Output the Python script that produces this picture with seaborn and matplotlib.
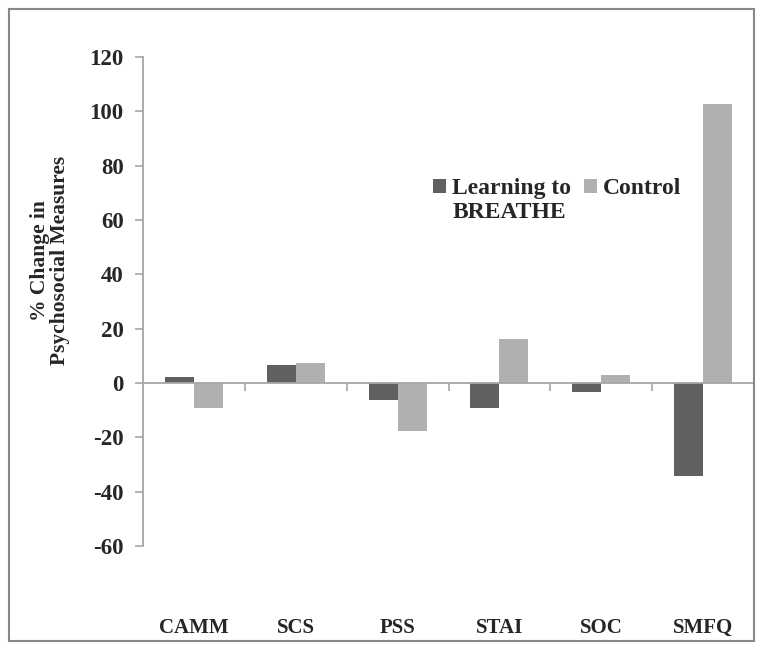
import matplotlib
matplotlib.use('Agg')
import matplotlib.pyplot as plt
import pandas as pd
import seaborn as sns
from matplotlib.patches import Rectangle

# values
measures = ["CAMM", "SCS", "PSS", "STAI", "SOC", "SMFQ"]
breathe = [2.2, 6.7, -6.4, -9.1, -3.2, -34.1]
control = [-9.3, 7.2, -17.7, 16.1, 2.8, 102.7]
groups = ["Learning to BREATHE", "Control"]
colors = ["#606060", "#b0b0b0"]
yticks = [-60, -40, -20, 0, 20, 40, 60, 80, 100, 120]

df = pd.DataFrame({
    "measure": measures * 2,
    "group": [groups[0]] * len(measures) + [groups[1]] * len(measures),
    "change": breathe + control,
})

sns.set_style("white")
plt.rcParams['font.family'] = ['Liberation Serif', 'DejaVu Serif']
plt.rcParams['font.weight'] = 'bold'
axis_gray = "#a6a6a6"

fig = plt.figure(figsize=(7.64, 6.51), dpi=100)
ax = fig.add_axes([143 / 764, 1 - 546 / 651, (754 - 143) / 764, (546 - 57) / 651])

sns.barplot(data=df, x="measure", y="change", hue="group", order=measures,
            hue_order=groups, palette=colors, width=0.57, saturation=1,
            linewidth=0, ax=ax)

ax.set_xlim(-0.5, len(measures) - 0.5)
ax.set_ylim(-60, 120)
ax.set_yticks(yticks)
ax.set_yticklabels([str(t) for t in yticks], fontsize=16.5, fontweight='bold')
ax.tick_params(axis='y', direction='out', length=6, width=1.2, color=axis_gray, pad=8, left=True)

# category axis crosses at zero, boundary ticks on it
for side in ["top", "right"]:
    ax.spines[side].set_visible(False)
ax.spines["left"].set_color(axis_gray)
ax.spines["left"].set_linewidth(1.3)
ax.spines["bottom"].set_position(("data", 0))
ax.spines["bottom"].set_color(axis_gray)
ax.spines["bottom"].set_linewidth(1.3)
ax.set_xticks([i + 0.5 for i in range(len(measures))])
ax.set_xticklabels([])
ax.tick_params(axis='x', direction='out', length=6, width=1.2, color=axis_gray, bottom=True)
for i, m in enumerate(measures):
    ax.text(i, -0.168, m, transform=ax.get_xaxis_transform(), ha='center', va='center',
            fontsize=15, fontweight='bold')

ax.set_xlabel("")
ax.set_ylabel("")
fig.text(0.065, 0.60, "% Change in\nPsychosocial Measures", rotation=90, ha='center',
         va='center', fontsize=15.5, fontweight='bold', linespacing=1.0)

# legend: first label wraps onto a second line under its text
handles, labels = ax.get_legend_handles_labels()
ax.legend(handles, ["Learning to", "Control"], ncol=2, frameon=False, loc='upper left',
          bbox_to_anchor=(433 / 764, 1 - 178 / 651), bbox_transform=fig.transFigure,
          prop={'size': 17, 'weight': 'bold'}, handlelength=0.55, handleheight=0.55,
          handletextpad=0.25, columnspacing=0.55, borderaxespad=0, borderpad=0)
fig.text(453 / 764, 1 - 213 / 651, "BREATHE", ha='left', va='center', fontsize=17,
         fontweight='bold')

# chart area border
fig.patches.append(Rectangle((9 / 764, 1 - 641 / 651), (754 - 9) / 764, (641 - 9) / 651,
                             transform=fig.transFigure, fill=False, edgecolor="#888888",
                             linewidth=1.5))

fig.savefig("out.png", dpi=100)
